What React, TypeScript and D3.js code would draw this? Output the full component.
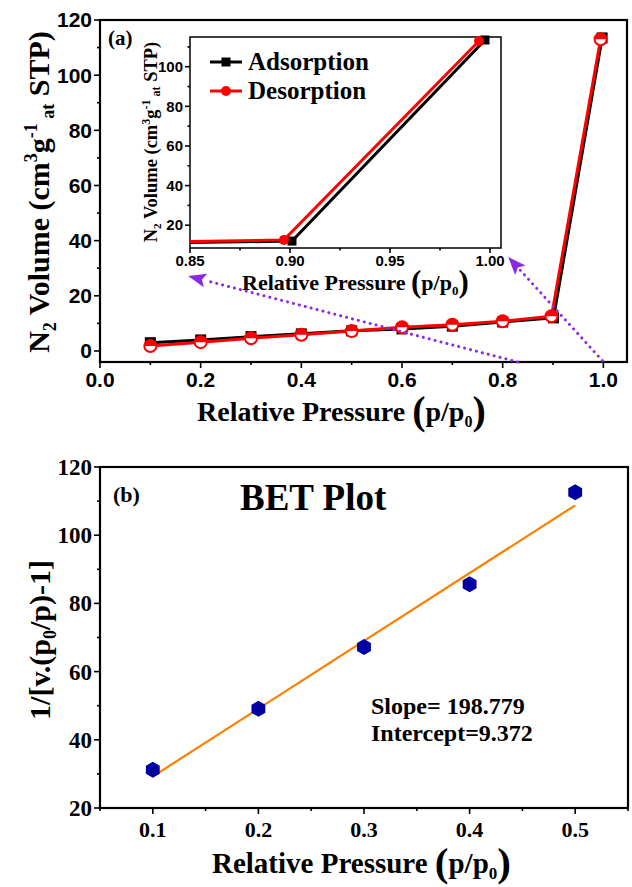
import React from 'react';
import * as d3 from 'd3';

// isotherm (a)
const adsX = [0.1, 0.2, 0.3, 0.4, 0.5, 0.6, 0.7, 0.8, 0.901, 0.9975];
const adsY = [3.0, 4.0, 5.2, 6.2, 7.3, 8.0, 9.0, 10.5, 12.0, 113.5];
const desX = [0.1, 0.2, 0.3, 0.4, 0.5, 0.6, 0.7, 0.8, 0.897, 0.9945];
const desY = [1.8, 3.2, 4.6, 5.9, 7.2, 8.6, 9.5, 10.8, 12.6, 113.0];

// BET plot (b)
const betX = [0.1, 0.2, 0.3, 0.4, 0.5];
const betY = [31.2, 49.1, 67.2, 85.6, 112.6];
const fitSlope = 198.779;
const fitIntercept = 9.372;

const mainXTicks = [0, 0.2, 0.4, 0.6, 0.8, 1.0];
const mainYTicks = [0, 20, 40, 60, 80, 100, 120];
const insetXTicks = [0.85, 0.9, 0.95, 1.0];
const insetYTicks = [20, 40, 60, 80, 100];
const betXTicks = [0.1, 0.2, 0.3, 0.4, 0.5];
const betYTicks = [20, 40, 60, 80, 100, 120];

const serif = '"Liberation Serif", "Times New Roman", serif';
const sans = '"Liberation Sans", Arial, sans-serif';
const purple = '#8a2be2';

const W = 632;
const H = 887;

// main (a) scales
const xA = d3.scaleLinear().domain([0, 1.047]).range([100, 627]);
const yA = d3.scaleLinear().domain([-4, 120]).range([362, 20]);
// inset scales
const xI = d3.scaleLinear().domain([0.85, 1.0055]).range([190, 501]);
const yI = d3.scaleLinear().domain([8.5, 115]).range([248, 37]);
// (b) scales
const xB = d3.scaleLinear().domain([0.05, 0.55]).range([100, 628]);
const yB = d3.scaleLinear().domain([20, 120]).range([808, 467]);

const hexPath = (r: number) =>
  d3.range(6).map(i => {
    const a = Math.PI / 2 + (i * Math.PI) / 3;
    return [r * Math.cos(a), r * Math.sin(a)];
  }).map((p, i) => (i ? 'L' : 'M') + p[0] + ',' + p[1]).join('') + 'Z';

function Ticks({ scale, major, minor, orient, at, len, fmt, font, size, offset }: any) {
  const items: any[] = [];
  const all = [...major.map((v: number) => [v, len]), ...minor.map((v: number) => [v, len / 2])];
  all.forEach(([v, l]: any, i: number) => {
    const p = scale(v);
    if (orient === 'bottom') items.push(<line key={'t' + i} x1={p} x2={p} y1={at} y2={at + l} stroke="#000" strokeWidth={1.6} />);
    else items.push(<line key={'t' + i} y1={p} y2={p} x1={at} x2={at - l} stroke="#000" strokeWidth={1.6} />);
  });
  major.forEach((v: number, i: number) => {
    const p = scale(v);
    items.push(orient === 'bottom'
      ? <text key={'l' + i} x={p} y={at + offset} textAnchor="middle" fontFamily={font} fontWeight="bold" fontSize={size}>{fmt(v)}</text>
      : <text key={'l' + i} x={at - offset} y={p} dy="0.35em" textAnchor="end" fontFamily={font} fontWeight="bold" fontSize={size}>{fmt(v)}</text>);
  });
  return <g>{items}</g>;
}

function Arrow({ x1, y1, x2, y2 }: any) {
  const ang = Math.atan2(y2 - y1, x2 - x1);
  const L = 18, Wd = 7;
  const bx = x2 - L * Math.cos(ang), by = y2 - L * Math.sin(ang);
  const nx = -Math.sin(ang) * Wd, ny = Math.cos(ang) * Wd;
  return (
    <g>
      <line x1={x1} y1={y1} x2={bx} y2={by} stroke={purple} strokeWidth={3} strokeDasharray="0.1 6" strokeLinecap="round" />
      <path d={`M${x2},${y2}L${bx + nx},${by + ny}L${bx + L * 0.2 * Math.cos(ang)},${by + L * 0.2 * Math.sin(ang)}L${bx - nx},${by - ny}Z`} fill={purple} />
    </g>
  );
}

export default function App() {
  const ads = adsX.map((x, i) => [x, adsY[i]]);
  const des = desX.map((x, i) => [x, desY[i]]);
  const lineA = d3.line<number[]>().x(d => xA(d[0])).y(d => yA(d[1]));
  const lineI = d3.line<number[]>().x(d => xI(d[0])).y(d => yI(d[1]));
  const fitX = d3.extent(betX) as number[];
  const fitLine = d3.line<number>().x(x => xB(x)).y(x => yB(fitSlope * x + fitIntercept));
  const insetAds = ads.slice(7);
  const insetDes = des.slice(7);

  return (
    <svg width={W} height={H} style={{ position: 'absolute', left: 0, top: 0, background: '#fff' }}>
      <defs>
        <clipPath id="clipI"><rect x={190} y={37} width={311} height={211} /></clipPath>
      </defs>
      <rect width={W} height={H} fill="#fff" />

      {/* ---------- panel (a) ---------- */}
      <rect x={100} y={20} width={527} height={342} fill="none" stroke="#000" strokeWidth={2.2} />
      <Ticks scale={yA} major={mainYTicks} minor={[10, 30, 50, 70, 90, 110]} orient="left" at={100} len={6}
        fmt={(v: number) => v} font={sans} size={21} offset={8} />
      <Ticks scale={xA} major={mainXTicks} minor={[0.1, 0.3, 0.5, 0.7, 0.9]} orient="bottom" at={362} len={6}
        fmt={d3.format('.1f')} font={sans} size={21} offset={25} />

      <text x={197} y={421} fontFamily={serif} fontWeight="bold" fontSize={28}>
        Relative Pressure <tspan fontSize={40} dy={3}>(</tspan><tspan dy={-3}>p/p</tspan><tspan fontSize={16} dy={6}>0</tspan><tspan fontSize={40} dy={-3}>)</tspan>
      </text>
      <text transform="translate(49,192) rotate(-90)" textAnchor="middle" fontFamily={serif} fontWeight="bold" fontSize={30}>
        N<tspan fontSize={18} dy={7}>2</tspan><tspan dy={-7}> Volume (cm</tspan><tspan fontSize={18} dy={-12}>3</tspan><tspan dy={12}>g</tspan><tspan fontSize={18} dy={-12}>-1</tspan><tspan fontSize={18} dy={17}> at</tspan><tspan dy={-5}> STP)</tspan>
      </text>
      <text x={108} y={45} fontFamily={serif} fontWeight="bold" fontSize={21}>(a)</text>

      {/* main curves */}
      <path d={lineA(ads) || ''} fill="none" stroke="#000" strokeWidth={3} />
      {ads.map((d, i) => (
        <rect key={'as' + i} x={xA(d[0]) - 5.5} y={yA(d[1]) - 5.5} width={11} height={11} fill="#000" />
      ))}
      <path d={lineA(des) || ''} fill="none" stroke="#f00" strokeWidth={3} />
      {des.map((d, i) => {
        const cx = xA(d[0]), cy = yA(d[1]);
        return (
          <g key={'ds' + i}>
            <circle cx={cx} cy={cy} r={6} fill="#fff" stroke="#f00" strokeWidth={2} />
            <path d={`M${cx - 6},${cy}A6,6 0 0 1 ${cx + 6},${cy}Z`} fill="#f00" />
          </g>
        );
      })}

      {/* ---------- inset ---------- */}
      <rect x={190} y={37} width={311} height={211} fill="#fff" stroke="#000" strokeWidth={1.5} />
      <g clipPath="url(#clipI)">
        <path d={lineI(insetAds) || ''} fill="none" stroke="#000" strokeWidth={3} />
        <path d={lineI(insetDes) || ''} fill="none" stroke="#f00" strokeWidth={3} />
      </g>
      {insetAds.slice(1).map((d, i) => (
        <rect key={'ia' + i} x={xI(d[0]) - 4.5} y={yI(d[1]) - 4.5} width={9} height={9} fill="#000" />
      ))}
      {insetDes.slice(1).map((d, i) => (
        <circle key={'id' + i} cx={xI(d[0])} cy={yI(d[1])} r={5} fill="#f00" />
      ))}
      <Ticks scale={yI} major={insetYTicks} minor={[30, 50, 70, 90, 110]} orient="left" at={190} len={5}
        fmt={(v: number) => v} font={sans} size={15} offset={7} />
      <Ticks scale={xI} major={insetXTicks} minor={[0.875, 0.925, 0.975]} orient="bottom" at={248} len={5}
        fmt={d3.format('.2f')} font={sans} size={15} offset={18} />
      <text x={242} y={290} fontFamily={serif} fontWeight="bold" fontSize={22}>
        Relative Pressure <tspan fontSize={31} dy={2}>(</tspan><tspan dy={-2}>p/p</tspan><tspan fontSize={13} dy={5}>0</tspan><tspan fontSize={31} dy={-3}>)</tspan>
      </text>
      <text transform="translate(157,142) rotate(-90)" textAnchor="middle" fontFamily={serif} fontWeight="bold" fontSize={18.5}>
        N<tspan fontSize={11} dy={4}>2</tspan><tspan dy={-4}> Volume (cm</tspan><tspan fontSize={12} dy={-7}>3</tspan><tspan dy={7}>g</tspan><tspan fontSize={12} dy={-7}>-1</tspan><tspan fontSize={12} dy={10}> at</tspan><tspan dy={-3}> STP)</tspan>
      </text>

      {/* legend */}
      <line x1={210} x2={242} y1={62} y2={62} stroke="#000" strokeWidth={3} />
      <rect x={221.5} y={57.5} width={9} height={9} fill="#000" />
      <text x={248} y={70} fontFamily={serif} fontWeight="bold" fontSize={25}>Adsorption</text>
      <line x1={210} x2={242} y1={91} y2={91} stroke="#f00" strokeWidth={3} />
      <circle cx={226} cy={91} r={5} fill="#f00" />
      <text x={248} y={99} fontFamily={serif} fontWeight="bold" fontSize={25}>Desorption</text>

      {/* zoom arrows */}
      <Arrow x1={xA(0.83)} y1={yA(-4)} x2={xA(0.175)} y2={yA(27.2)} />
      <Arrow x1={xA(0.998)} y1={yA(-3.5)} x2={xA(0.811)} y2={yA(34.1)} />

      {/* ---------- panel (b) ---------- */}
      <rect x={100} y={467} width={528} height={341} fill="none" stroke="#000" strokeWidth={2.2} />
      <Ticks scale={yB} major={betYTicks} minor={[30, 50, 70, 90, 110]} orient="left" at={100} len={6}
        fmt={(v: number) => v} font={serif} size={23} offset={8} />
      <Ticks scale={xB} major={betXTicks} minor={[0.05, 0.15, 0.25, 0.35, 0.45, 0.55]} orient="bottom" at={808} len={6}
        fmt={d3.format('.1f')} font={serif} size={22} offset={29} />
      <text x={212} y={873} fontFamily={serif} fontWeight="bold" fontSize={29}>
        Relative Pressure <tspan fontSize={41} dy={3}>(</tspan><tspan dy={-3}>p/p</tspan><tspan fontSize={17} dy={6}>0</tspan><tspan fontSize={41} dy={-3}>)</tspan>
      </text>
      <text transform="translate(50,640) rotate(-90)" textAnchor="middle" fontFamily={serif} fontWeight="bold" fontSize={30}>
        1/[v.(p<tspan fontSize={18} dy={6}>0</tspan><tspan dy={-6}>/p)-1]</tspan>
      </text>
      <text x={113} y={502} fontFamily={serif} fontWeight="bold" fontSize={22}>(b)</text>
      <text x={240} y={510} fontFamily={serif} fontWeight="bold" fontSize={37}>BET Plot</text>
      <text x={371} y={714} fontFamily={serif} fontWeight="bold" fontSize={24}>Slope= 198.779</text>
      <text x={371} y={741} fontFamily={serif} fontWeight="bold" fontSize={24}>Intercept=9.372</text>

      <path d={fitLine(fitX) || ''} fill="none" stroke="#ff7f00" strokeWidth={2.2} />
      {betX.map((x, i) => (
        <path key={'b' + i} d={hexPath(8)} transform={`translate(${xB(x)},${yB(betY[i])})`} fill="#0000a0" />
      ))}
    </svg>
  );
}
